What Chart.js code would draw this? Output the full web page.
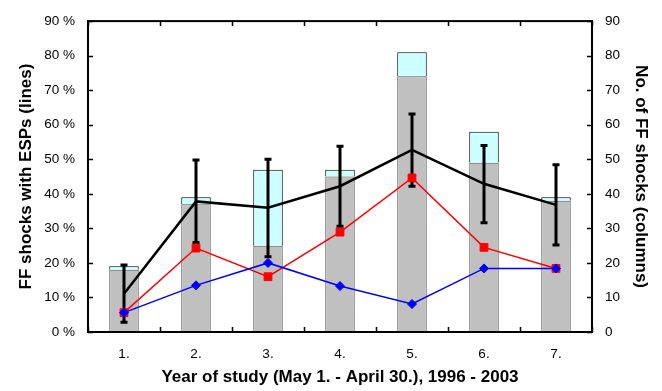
<!DOCTYPE html>
<html>
<head>
<meta charset="utf-8">
<script src="https://cdn.jsdelivr.net/npm/chart.js@4/dist/chart.umd.min.js"></script>
<style>
html,body{margin:0;padding:0;background:#fff;}
#wrap{width:662px;height:391px;position:relative;}
</style>
</head>
<body>
<div id="wrap"><canvas id="c" width="662" height="391"></canvas></div>
<script>
// ---- data ----
const categories = ['1.', '2.', '3.', '4.', '5.', '6.', '7.'];
// columns (right axis, number of FF shocks)
const shocksGray = [18, 37, 25, 45, 74, 49, 38];
const shocksCyan = [1, 2, 22, 2, 7, 9, 1];
// lines (left axis, %)
const blackLine = [11.1, 37.8, 36.0, 42.2, 52.7, 42.9, 36.8];
const blackErrLow = [2.8, 25.9, 21.8, 30.6, 42.2, 31.6, 25.2];
const blackErrHigh = [19.4, 49.8, 50.0, 53.8, 63.1, 54.0, 48.4];
const redLine = [5.6, 24.3, 16.0, 28.9, 44.6, 24.5, 18.4];
const blueLine = [5.6, 13.5, 20.0, 13.3, 8.1, 18.4, 18.4];
const leftTicks = [0, 10, 20, 30, 40, 50, 60, 70, 80, 90];
const rightTicks = [0, 10, 20, 30, 40, 50, 60, 70, 80, 90];

const FONT = '"Liberation Sans", Arial, sans-serif';

const errorBarPlugin = {
  id: 'errorBars',
  afterDatasetDraw(chart, args) {
    if (args.index !== 2) return;
    const ctx = chart.ctx;
    const x = chart.scales.x, y = chart.scales.y;
    ctx.save();
    ctx.strokeStyle = '#000';
    ctx.lineWidth = 3;
    ctx.lineCap = 'butt';
    for (let i = 0; i < categories.length; i++) {
      const px = x.getPixelForValue(i);
      const lo = y.getPixelForValue(blackErrLow[i]);
      const hi = y.getPixelForValue(blackErrHigh[i]);
      ctx.beginPath();
      ctx.moveTo(px, lo); ctx.lineTo(px, hi);
      ctx.moveTo(px - 3.5, lo); ctx.lineTo(px + 3.5, lo);
      ctx.moveTo(px - 3.5, hi); ctx.lineTo(px + 3.5, hi);
      ctx.stroke();
    }
    ctx.restore();
  }
};

const framePlugin = {
  id: 'frame',
  afterDatasetsDraw(chart) {
    const ctx = chart.ctx;
    const a = chart.chartArea;
    const x = chart.scales.x, y = chart.scales.y, y2 = chart.scales.y2;
    ctx.save();
    ctx.strokeStyle = '#000';
    ctx.lineWidth = 1.5;
    ctx.beginPath();
    leftTicks.forEach(v => {
      const p = Math.round(y.getPixelForValue(v)) + 0.5;
      ctx.moveTo(a.left, p); ctx.lineTo(a.left + 5, p);
    });
    rightTicks.forEach(v => {
      const p = Math.round(y2.getPixelForValue(v)) + 0.5;
      ctx.moveTo(a.right, p); ctx.lineTo(a.right - 5, p);
    });
    for (let i = 0; i <= categories.length; i++) {
      const p = Math.round(x.getPixelForValue(i - 0.5)) + 0.5;
      ctx.moveTo(p, a.bottom); ctx.lineTo(p, a.bottom - 5);
      ctx.moveTo(p, a.top); ctx.lineTo(p, a.top + 5);
    }
    ctx.stroke();
    ctx.lineWidth = 2;
    ctx.strokeRect(a.left, a.top, a.right - a.left, a.bottom - a.top);
    ctx.restore();
  }
};

new Chart(document.getElementById('c'), {
  data: {
    labels: categories,
    datasets: [
      { type: 'bar', label: 'shocks', data: shocksGray, yAxisID: 'y2', stack: 's',
        backgroundColor: '#c0c0c0', borderColor: '#595959', borderWidth: 1, order: 4,
        categoryPercentage: 1, barPercentage: 0.41 },
      { type: 'bar', label: 'shocks2', data: shocksCyan, yAxisID: 'y2', stack: 's',
        backgroundColor: '#ccffff', borderColor: '#000', borderWidth: 1, order: 5,
        categoryPercentage: 1, barPercentage: 0.41 },
      { type: 'line', label: 'black', data: blackLine, yAxisID: 'y',
        borderColor: '#000', borderWidth: 2.5, pointRadius: 0, tension: 0, order: 3 },
      { type: 'line', label: 'red', data: redLine, yAxisID: 'y',
        borderColor: '#ff0000', backgroundColor: '#ff0000', borderWidth: 1.5,
        pointStyle: 'rect', pointRadius: 5.5, pointBorderWidth: 1, tension: 0, order: 2 },
      { type: 'line', label: 'blue', data: blueLine, yAxisID: 'y',
        borderColor: '#0000ff', backgroundColor: '#0000ff', borderWidth: 1.5,
        pointStyle: 'rectRot', pointRadius: 4.5, pointBorderWidth: 1, tension: 0, order: 1 }
    ]
  },
  options: {
    responsive: false,
    animation: false,
    events: [],
    layout: { padding: { top: 14, left: 0, right: 0, bottom: 0 } },
    plugins: { legend: { display: false }, tooltip: { enabled: false } },
    scales: {
      x: {
        stacked: true,
        offset: true,
        grid: { display: false, drawTicks: false },
        border: { display: false },
        ticks: { padding: 14, color: '#000', font: { family: FONT, size: 13.5 } },
        title: { display: true, text: 'Year of study (May 1. - April 30.), 1996 - 2003',
          color: '#000', font: { family: FONT, size: 17, weight: 'bold' }, padding: { top: 0, bottom: 3 } },
        afterFit(s) { s.height = 59; }
      },
      y: {
        position: 'left',
        min: 0, max: 90,
        stacked: false,
        grid: { display: false, drawTicks: false },
        border: { display: false },
        afterBuildTicks(s) { s.ticks = leftTicks.map(v => ({ value: v })); },
        ticks: { padding: 13, color: '#000', font: { family: FONT, size: 13.5 },
          callback: v => v + ' %' },
        title: { display: true, text: 'FF shocks with ESPs (lines)',
          color: '#000', font: { family: FONT, size: 17, weight: 'bold' }, padding: { top: 16, bottom: 0 } },
        afterFit(s) { s.width = 88; }
      },
      y2: {
        position: 'right',
        min: 0, max: 90,
        stacked: true,
        grid: { display: false, drawTicks: false },
        border: { display: false },
        afterBuildTicks(s) { s.ticks = rightTicks.map(v => ({ value: v })); },
        ticks: { padding: 13, color: '#000', font: { family: FONT, size: 13.5 } },
        title: { display: true, text: 'No. of FF shocks (columns)',
          color: '#000', font: { family: FONT, size: 17, weight: 'bold' }, padding: { top: 11, bottom: 0 } },
        afterFit(s) { s.width = 70; }
      }
    }
  },
  plugins: [errorBarPlugin, framePlugin]
});
</script>
</body>
</html>
